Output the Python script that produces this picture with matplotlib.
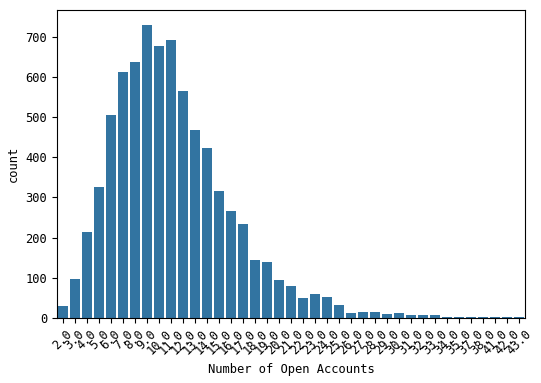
import matplotlib
matplotlib.use('Agg')
import matplotlib.pyplot as plt
import seaborn as sns

# number of open accounts (categories) and their counts
accounts = [2.0, 3.0, 4.0, 5.0, 6.0, 7.0, 8.0, 9.0, 10.0, 11.0, 12.0, 13.0, 14.0,
            15.0, 16.0, 17.0, 18.0, 19.0, 20.0, 21.0, 22.0, 23.0, 24.0, 25.0,
            26.0, 27.0, 28.0, 29.0, 30.0, 31.0, 32.0, 33.0, 34.0, 35.0, 37.0,
            38.0, 41.0, 42.0, 43.0]
counts = [30, 97, 214, 325, 504, 613, 638, 730, 678, 692, 564, 467, 423,
          315, 266, 234, 145, 140, 94, 80, 50, 60, 52, 32,
          12, 15, 15, 10, 12, 7, 7, 7, 2, 2, 1,
          2, 1, 1, 1]
tick_labels = [str(a) for a in accounts]

plt.rcParams['font.family'] = ['DejaVu Sans Mono']
plt.rcParams['font.size'] = 8.7

fig, ax = plt.subplots(figsize=(5.41, 3.83), dpi=100)
fig.subplots_adjust(left=0.105, right=0.971, top=0.974, bottom=0.17)

sns.barplot(x=tick_labels, y=counts, color='#1f77b4', ax=ax)

ax.set_xlabel('Number of Open Accounts')
ax.set_ylabel('count')
ax.tick_params(axis='x', rotation=45)

fig.savefig('out.png', dpi=100)
